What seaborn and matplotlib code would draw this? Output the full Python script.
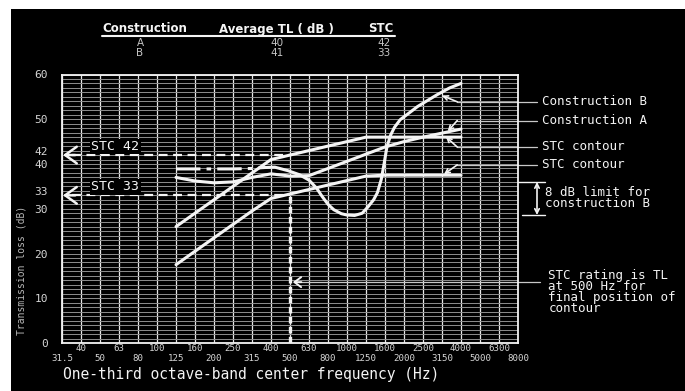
import matplotlib
matplotlib.use("Agg")
import pandas as pd
import matplotlib.pyplot as plt
from matplotlib.patches import Rectangle
from matplotlib.lines import Line2D
from matplotlib.ticker import MultipleLocator
import seaborn as sns

# one-third octave bands, 31.5 Hz .. 8000 Hz (x axis = band number)
band_labels = ['31.5', '40', '50', '63', '80', '100', '125', '160', '200', '250',
               '315', '400', '500', '630', '800', '1000', '1250', '1600', '2000',
               '2500', '3150', '4000', '5000', '6300', '8000']
y_ticks = [0, 10, 20, 30, 33, 40, 42, 50, 60]

# contours and construction A are drawn over 125 Hz .. 4000 Hz
contour_bands = list(range(6, 22))
stc42_contour = [26, 29, 32, 35, 38, 41, 42, 43, 44, 45, 46, 46, 46, 46, 46, 46]
stc33_contour = [17.5, 20.5, 23.5, 26.5, 29.5, 32.3, 33.3, 34.3, 35.3, 36.3,
                 37.3, 37.5, 37.5, 37.5, 37.5, 37.5]
constr_a = [37.0, 36.2, 35.8, 36.0, 37.0, 37.8, 37.3, 37.4, 39.0, 40.6,
            42.2, 43.8, 45.0, 46.0, 46.9, 47.8]

# construction B (band position, TL)
b_band = [6.0, 7.0, 8.0, 9.0, 10.0, 10.6, 11.2, 11.9, 12.5, 13.0, 13.4, 13.7,
          14.0, 14.3, 14.7, 15.0, 15.4, 15.8, 16.1, 16.4, 16.6, 16.8, 16.95,
          17.1, 17.3, 17.5, 17.8, 18.3, 18.7, 19.2, 19.75, 20.4, 21.0]
b_tl = [38.9, 38.9, 38.9, 38.9, 39.0, 39.2, 39.3, 38.5, 37.6, 36.4, 34.6, 32.7,
        31.0, 29.8, 28.9, 28.6, 28.5, 29.0, 30.4, 32.0, 33.6, 36.5, 40.0,
        43.8, 46.5, 48.2, 49.9, 51.5, 52.8, 54.1, 55.5, 57.0, 58.0]
b_dashed_until = 6  # first points drawn dash-dot

table_header = ['Construction', 'Average TL ( dB )', 'STC']
table_constr = ['A', 'B']
table_avg_tl = [40, 41]
table_stc = [42, 33]

sns.set_theme(style="dark", rc={"axes.facecolor": "black", "figure.facecolor": "white"})
plt.rcParams['font.family'] = ['DejaVu Sans Mono', 'DejaVu Sans']

W, H = 685, 391
fig = plt.figure(figsize=(W / 100, H / 100), dpi=100)
fig.patches.append(Rectangle((11 / W, 0), (W - 11) / W, (H - 9) / H, transform=fig.transFigure,
                             facecolor='black', edgecolor='none', zorder=-10))
ax = fig.add_axes([62 / W, 48 / H, 456 / W, 268.5 / H])
ax.set_facecolor('black')

fg = '#f4f4f4'
lbl = '#d6d6d6'

# grid paper; x labels staggered: odd bands on the upper row, even bands below
ax.set_xlim(0, 24)
ax.set_ylim(0, 60)
top_row = list(range(1, len(band_labels), 2))
low_row = list(range(0, len(band_labels), 2))
ax.set_xticks(top_row, [band_labels[i] for i in top_row], fontsize=6.6, color=lbl)
ax.set_xticks(low_row, [band_labels[i] for i in low_row], minor=True, fontsize=6.6, color=lbl)
ax.set_yticks(y_ticks, [str(v) for v in y_ticks], fontsize=8, color=lbl)
ax.yaxis.set_minor_locator(MultipleLocator(1))
ax.grid(True, which='both', axis='y', color='#8e8e8e', lw=0.7)
ax.grid(True, which='both', axis='x', color='#e6e6e6', lw=0.9)
ax.set_axisbelow(True)
for s in ax.spines.values():
    s.set_color(fg)
    s.set_linewidth(1.3)

# curves
lw = 2.2
sns.lineplot(x=contour_bands, y=stc42_contour, ax=ax, color=fg, lw=lw, estimator=None)
sns.lineplot(x=contour_bands, y=stc33_contour, ax=ax, color=fg, lw=lw, estimator=None)
sns.lineplot(x=contour_bands, y=constr_a, ax=ax, color=fg, lw=lw, estimator=None)
sns.lineplot(x=b_band[:b_dashed_until], y=b_tl[:b_dashed_until], ax=ax, color=fg, lw=lw,
             sort=False, estimator=None, dashes=False, linestyle=(0, (8, 2, 1.5, 2)))
sns.lineplot(x=b_band[b_dashed_until - 1:], y=b_tl[b_dashed_until - 1:], ax=ax, color=fg, lw=lw,
             sort=False, estimator=None)

# STC 42 / STC 33 reference lines and 500 Hz line
for stc, ty in [(42, 43.9), (33, 34.9)]:
    ax.plot([0.5, 12], [stc, stc], color=fg, lw=1.6, ls=(0, (4, 2.5)))
    ax.annotate('', xy=(0.05, stc), xytext=(0.7, stc),
                arrowprops=dict(arrowstyle='->, head_length=0.7, head_width=0.5', color=fg,
                                lw=1.8, mutation_scale=12, shrinkA=0, shrinkB=0))
    ax.text(2.8, ty, f'STC {stc}', color=fg, fontsize=9.5, ha='center', va='center',
            bbox=dict(facecolor='black', edgecolor='none', pad=1))
ax.plot([12, 12], [0, 33], color=fg, lw=2.4, ls=(0, (2, 1)))

# right side labels with leaders
leaders = [('Construction B', 53.9, (20.0, 55.3)),
           ('Construction A', 49.7, (20.3, 47.3)),
           ('STC contour', 43.8, (20.2, 46.1)),
           ('STC contour', 39.8, (20.1, 37.7))]
for text, ly, tip in leaders:
    ax.plot([20.8, 25.0], [ly, ly], color='#c8c8c8', lw=0.9, clip_on=False)
    ax.annotate('', xy=tip, xytext=(20.8, ly), annotation_clip=False,
                arrowprops=dict(arrowstyle='->', color=fg, lw=1.2, mutation_scale=8,
                                shrinkA=0, shrinkB=0))
    ax.text(25.26, ly, text, color=fg, fontsize=9, ha='left', va='center', clip_on=False)

# 8 dB limit
ax.plot([24.0, 25.4], [36.0, 36.0], color=fg, lw=1.0, clip_on=False)
ax.plot([24.2, 25.4], [28.6, 28.6], color=fg, lw=1.0, clip_on=False)
ax.annotate('', xy=(25.0, 36.0), xytext=(25.0, 28.6), annotation_clip=False,
            arrowprops=dict(arrowstyle='<->', color=fg, lw=1.2, mutation_scale=8,
                            shrinkA=0, shrinkB=0))
ax.text(25.4, 32.4, '8 dB limit for\nconstruction B', color=fg, fontsize=9, ha='left',
        va='center', linespacing=0.8, clip_on=False)

# STC rating note
ax.plot([12.4, 25.16], [13.6, 13.6], color='#c8c8c8', lw=0.9, clip_on=False)
ax.annotate('', xy=(12.15, 13.6), xytext=(12.6, 13.6), annotation_clip=False,
            arrowprops=dict(arrowstyle='->, head_length=0.6, head_width=0.45', color=fg,
                            lw=1.4, mutation_scale=8, shrinkA=0, shrinkB=0))
ax.text(25.6, 11.4, 'STC rating is TL\nat 500 Hz for\nfinal position of\ncontour', color=fg,
        fontsize=9, ha='left', va='center', linespacing=0.78, clip_on=False)

for t, v in zip(ax.get_yticklabels(), y_ticks):
    if v in (42, 33):
        t.set_va('baseline')
ax.tick_params(axis='both', which='both', length=0)
ax.tick_params(axis='x', which='major', pad=1)
ax.tick_params(axis='x', which='minor', pad=8.2)
ax.tick_params(axis='y', pad=10)
ax.set_xlabel('')
ax.set_ylabel('')

fig.text(63 / W, 1 - 374 / H, 'One-third octave-band center frequency (Hz)', color=fg,
         fontsize=10.5, ha='left', va='center')
fig.text(22 / W, 1 - 270 / H, 'Transmission loss (dB)', color='#b8b8b8', fontsize=7,
         rotation=90, ha='center', va='center')

# summary table
for txt, cx in zip(table_header, [145, 276, 381]):
    fig.text(cx / W, 1 - 29 / H, txt, color=fg, fontsize=8.5, fontweight='bold',
             family='DejaVu Sans', ha='center', va='center')
fig.add_artist(Line2D([102 / W, 395 / W], [1 - 35.5 / H] * 2, color=fg, lw=1.5))
for i, (c, tl, stc) in enumerate(zip(table_constr, table_avg_tl, table_stc)):
    ry = 1 - (42.5 + 10 * i) / H
    for txt, cx in zip([c, str(tl), str(stc)], [140, 277, 384]):
        fig.text(cx / W, ry, txt, color='#c4c4c4', fontsize=7.5, family='DejaVu Sans',
                 ha='center', va='center')

fig.savefig('out.png', dpi=100, facecolor=fig.get_facecolor())
